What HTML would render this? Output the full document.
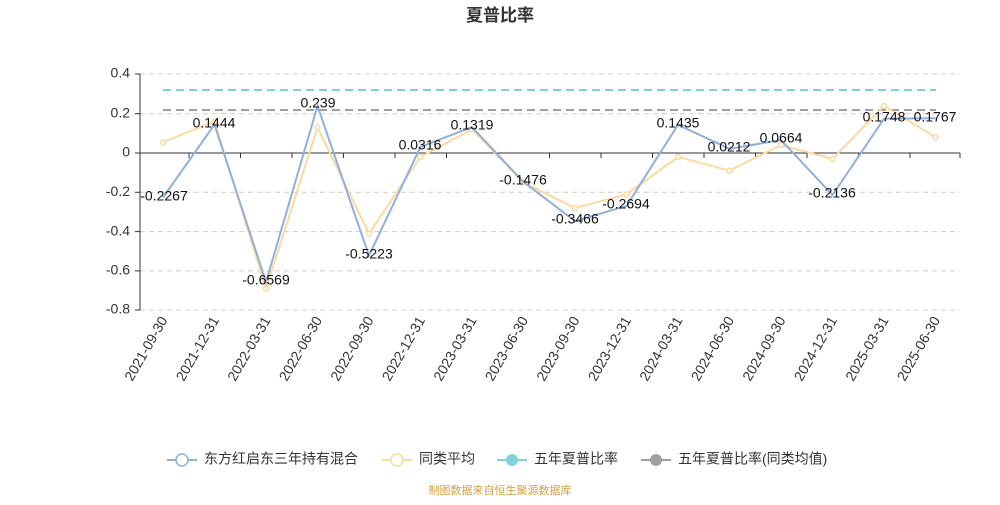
<!DOCTYPE html>
<html><head><meta charset="utf-8"><style>
body{margin:0;background:#fff;}
svg{font-family:"Liberation Sans","Noto Sans CJK SC",sans-serif;}
</style></head><body>
<svg width="1000" height="500" viewBox="0 0 1000 500">
<text x="500" y="21" text-anchor="middle" font-size="17" font-weight="bold" fill="#333">夏普比率</text>
<g stroke="#ccc" stroke-dasharray="5,4" stroke-width="1">
<line x1="140" x2="960" y1="74" y2="74"/><line x1="140" x2="960" y1="113.7" y2="113.7"/>
<line x1="140" x2="960" y1="192.3" y2="192.3"/><line x1="140" x2="960" y1="231.6" y2="231.6"/>
<line x1="140" x2="960" y1="270.9" y2="270.9"/><line x1="140" x2="960" y1="310" y2="310"/>
</g>
<line x1="140" x2="140" y1="74" y2="310" stroke="#333"/>
<line x1="140" x2="960" y1="153" y2="153" stroke="#333"/>
<g stroke="#333"><line x1="135" x2="140" y1="74" y2="74"/><line x1="135" x2="140" y1="113.7" y2="113.7"/><line x1="135" x2="140" y1="153" y2="153"/><line x1="135" x2="140" y1="192.3" y2="192.3"/><line x1="135" x2="140" y1="231.6" y2="231.6"/><line x1="135" x2="140" y1="270.9" y2="270.9"/><line x1="135" x2="140" y1="310" y2="310"/></g>
<g font-size="14" fill="#333" text-anchor="end" dominant-baseline="middle">
<text x="130" y="74">0.4</text><text x="130" y="113.7">0.2</text><text x="130" y="153">0</text><text x="130" y="192.3">-0.2</text><text x="130" y="231.6">-0.4</text><text x="130" y="270.9">-0.6</text><text x="130" y="310">-0.8</text></g>
<g stroke="#333">
<line x1="140" x2="140" y1="153" y2="158"/><line x1="189" x2="189" y1="153" y2="158"/><line x1="240.5" x2="240.5" y1="153" y2="158"/><line x1="292" x2="292" y1="153" y2="158"/><line x1="343.5" x2="343.5" y1="153" y2="158"/><line x1="395" x2="395" y1="153" y2="158"/><line x1="446.5" x2="446.5" y1="153" y2="158"/><line x1="498" x2="498" y1="153" y2="158"/><line x1="549.5" x2="549.5" y1="153" y2="158"/><line x1="601" x2="601" y1="153" y2="158"/><line x1="652.5" x2="652.5" y1="153" y2="158"/><line x1="704" x2="704" y1="153" y2="158"/><line x1="755.5" x2="755.5" y1="153" y2="158"/><line x1="807" x2="807" y1="153" y2="158"/><line x1="858.5" x2="858.5" y1="153" y2="158"/><line x1="910" x2="910" y1="153" y2="158"/><line x1="960" x2="960" y1="153" y2="158"/></g>
<g font-size="14" fill="#333" text-anchor="end">
<text transform="translate(168,320) rotate(-60)">2021-09-30</text>
<text transform="translate(219.5,320) rotate(-60)">2021-12-31</text>
<text transform="translate(271,320) rotate(-60)">2022-03-31</text>
<text transform="translate(322.5,320) rotate(-60)">2022-06-30</text>
<text transform="translate(374,320) rotate(-60)">2022-09-30</text>
<text transform="translate(425.5,320) rotate(-60)">2022-12-31</text>
<text transform="translate(477,320) rotate(-60)">2023-03-31</text>
<text transform="translate(528.5,320) rotate(-60)">2023-06-30</text>
<text transform="translate(580,320) rotate(-60)">2023-09-30</text>
<text transform="translate(631.5,320) rotate(-60)">2023-12-31</text>
<text transform="translate(683,320) rotate(-60)">2024-03-31</text>
<text transform="translate(734.5,320) rotate(-60)">2024-06-30</text>
<text transform="translate(786,320) rotate(-60)">2024-09-30</text>
<text transform="translate(837.5,320) rotate(-60)">2024-12-31</text>
<text transform="translate(889,320) rotate(-60)">2025-03-31</text>
<text transform="translate(940.5,320) rotate(-60)">2025-06-30</text>
</g>
<line x1="163" x2="936" y1="90" y2="90" stroke="#7fd3d8" stroke-width="2" stroke-dasharray="8,5"/>
<line x1="163" x2="936" y1="110" y2="110" stroke="#a0a0a0" stroke-width="2" stroke-dasharray="8,5"/>
<polyline fill="none" stroke="#fdd9a0" stroke-width="2" points="163,142.2 214.5,121.6 266,288.6 317.5,127.5 369,233.6 420.5,156.9 472,129.4 523.5,182.5 575,208 626.5,194.3 678,156.9 729.5,170.7 781,145.1 832.5,158.9 884,105.8 935.5,137.3"/>
<g fill="#fff" stroke="#fdd9a0" stroke-width="1.5">
<circle cx="163" cy="142.2" r="2.5"/><circle cx="214.5" cy="121.6" r="2.5"/><circle cx="266" cy="288.6" r="2.5"/><circle cx="317.5" cy="127.5" r="2.5"/><circle cx="369" cy="233.6" r="2.5"/><circle cx="420.5" cy="156.9" r="2.5"/><circle cx="472" cy="129.4" r="2.5"/><circle cx="523.5" cy="182.5" r="2.5"/><circle cx="575" cy="208" r="2.5"/><circle cx="626.5" cy="194.3" r="2.5"/><circle cx="678" cy="156.9" r="2.5"/><circle cx="729.5" cy="170.7" r="2.5"/><circle cx="781" cy="145.1" r="2.5"/><circle cx="832.5" cy="158.9" r="2.5"/><circle cx="884" cy="105.8" r="2.5"/><circle cx="935.5" cy="137.3" r="2.5"/></g>
<polyline fill="none" stroke="#8fb0de" stroke-width="2" points="163,197.5 214.5,124.6 266,282.1 317.5,106 369,255.6 420.5,146.8 472,127.1 523.5,182 575,221.1 626.5,205.9 678,124.8 729.5,148.8 781,140 832.5,195 884,118.7 935.5,118.3"/>
<g font-size="14" fill="#111" text-anchor="middle" dominant-baseline="middle">
<text x="164" y="197">-0.2267</text><text x="214" y="124">0.1444</text><text x="266" y="281">-0.6569</text><text x="318" y="104">0.239</text><text x="369" y="255">-0.5223</text><text x="420" y="146">0.0316</text><text x="472" y="126">0.1319</text><text x="523" y="181">-0.1476</text><text x="575" y="220">-0.3466</text><text x="626" y="205">-0.2694</text><text x="678" y="124">0.1435</text><text x="729" y="148">0.0212</text><text x="781" y="139">0.0664</text><text x="832" y="194">-0.2136</text><text x="884" y="118">0.1748</text><text x="935" y="118">0.1767</text></g>
<g font-size="14" fill="#333" dominant-baseline="middle">
<line x1="167" x2="197" y1="460" y2="460" stroke="#8fb0de" stroke-width="2"/><circle cx="182" cy="460" r="6" fill="#fff" stroke="#8fb0de" stroke-width="1.5"/><text x="204" y="460">东方红启东三年持有混合</text>
<line x1="382" x2="412" y1="460" y2="460" stroke="#fdd9a0" stroke-width="2"/><circle cx="397" cy="460" r="6" fill="#fff" stroke="#fdd9a0" stroke-width="1.5"/><text x="419" y="460">同类平均</text>
<line x1="497" x2="527" y1="460" y2="460" stroke="#7fd3d8" stroke-width="2"/><circle cx="512" cy="460" r="6" fill="#7fd3d8"/><text x="534" y="460">五年夏普比率</text>
<line x1="641" x2="671" y1="460" y2="460" stroke="#a0a0a0" stroke-width="2"/><circle cx="656" cy="460" r="6" fill="#a0a0a0"/><text x="678" y="460">五年夏普比率(同类均值)</text>
</g>
<text x="500" y="494" font-size="11" fill="#d4a040" text-anchor="middle">制图数据来自恒生聚源数据库</text>
</svg>
</body></html>
